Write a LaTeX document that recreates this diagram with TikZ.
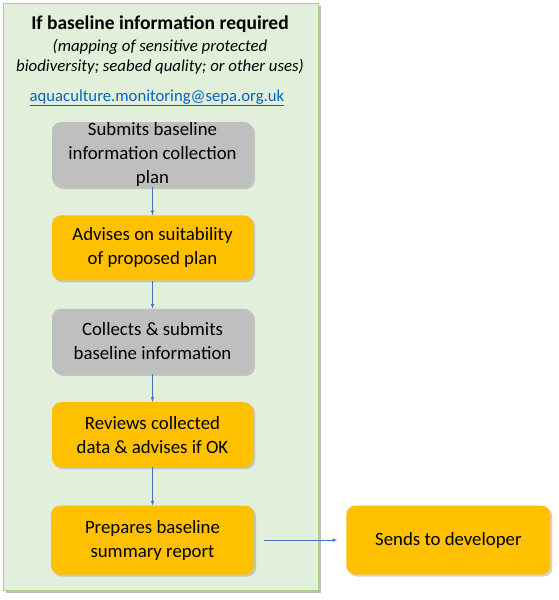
\documentclass[tikz,border=0pt]{standalone}
\usepackage{fontspec}
\setmainfont{Carlito}
\usetikzlibrary{positioning}
\usetikzlibrary{shadows}
\definecolor{panelgreen}{HTML}{E2EFDA}
\definecolor{panelline}{HTML}{A9D18E}
\definecolor{boxgrey}{HTML}{BFBFBF}
\definecolor{boxorange}{HTML}{FFC000}
\definecolor{linkblue}{HTML}{0563C1}
\definecolor{arrowblue}{HTML}{4472C4}
\tikzset{%
  flowarrow/.style = {-latex,arrowblue,line width=0.6pt},
  applicant/.style = {rectangle,rounded corners=9pt,fill=boxgrey,
        minimum width=201pt,minimum height=65pt,inner sep=0pt,
        align=center,font=\fontsize{18.8}{24}\selectfont,
        drop shadow={shadow xshift=2pt,shadow yshift=-2pt,opacity=0.35}},
  sepa/.style = {applicant,fill=boxorange}
}
\begin{document}
\begin{tikzpicture}[x=1pt,y=1pt]
    \useasboundingbox (0,0) rectangle (559,-600);
    \fill[black!25] (6,-6) rectangle (321,-593);
    \draw[panelline,fill=panelgreen,line width=1pt] (3,-3) rectangle (318,-590);
    \node[font=\bfseries\fontsize{19.5}{24}\selectfont] (title) at (160,-24)
        {If baseline information required};
    \node[font=\itshape\fontsize{16.8}{20}\selectfont,align=center] (scope) at (160,-57)
        {(mapping of sensitive protected\\biodiversity; seabed quality; or other uses)};
    \node[font=\fontsize{16.7}{20}\selectfont,text=linkblue] (email) at (157,-98)
        {\underline{aquaculture.monitoring@sepa.org.uk}};
    \node[applicant] (plan) at (152.5,-154.5) {Submits baseline\\information collection\\plan};
    \node[sepa, below=28pt of plan] (advise) {Advises on suitability\\of proposed plan};
    \node[applicant, below=28pt of advise] (collect) {Collects \& submits\\baseline information};
    \node[sepa, below=28pt of collect] (review) {Reviews collected\\data \& advises if OK};
    \node[sepa, below=38pt of review, minimum width=203pt, minimum height=69pt] (report)
        {Prepares baseline\\summary report};
    \node[sepa, right=92pt of report, minimum width=204pt, minimum height=69pt] (send)
        {Sends to developer};
    \draw[flowarrow] (plan) -- (advise);
    \draw[flowarrow] (advise) -- (collect);
    \draw[flowarrow] (collect) -- (review);
    \draw[flowarrow] (review) -- (report);
    \draw[flowarrow] ([xshift=10pt]report.east) -- ([xshift=-9pt]send.west);
\end{tikzpicture}
\end{document}
